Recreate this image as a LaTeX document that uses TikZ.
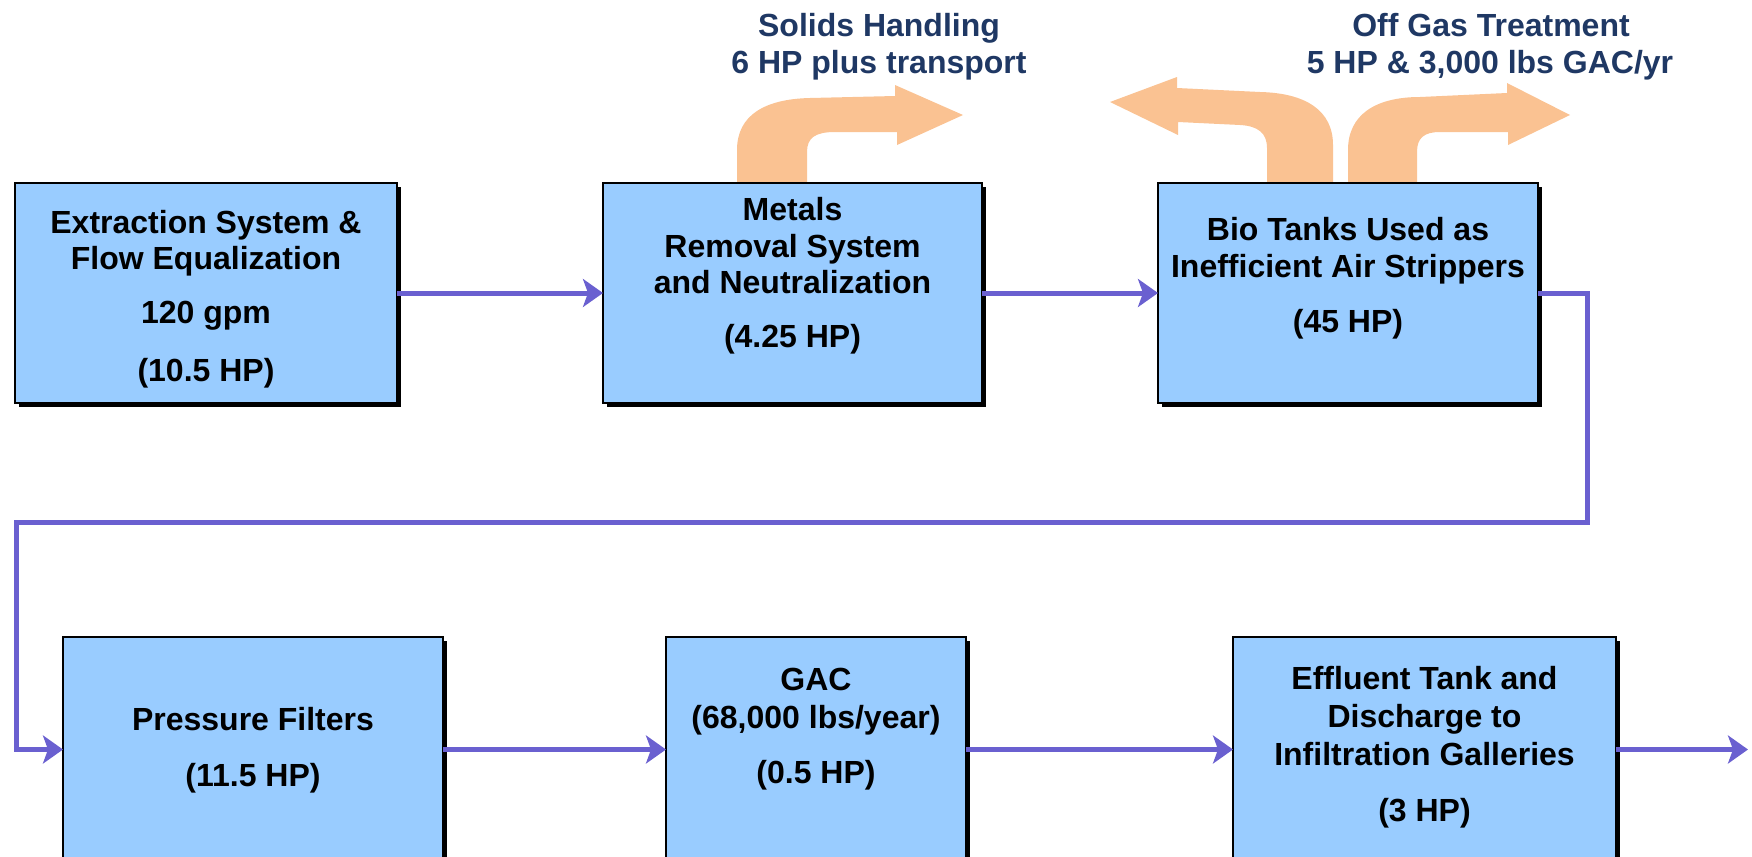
\documentclass[tikz,border=0pt]{standalone}
\usepackage{fontspec}
\setmainfont{Liberation Sans}
\usetikzlibrary{arrows.meta,shadows}
\definecolor{boxblue}{RGB}{153,204,255}
\definecolor{flowblue}{RGB}{106,96,208}
\definecolor{peach}{RGB}{250,194,146}
\definecolor{navy}{RGB}{31,56,100}
\begin{document}
\begin{tikzpicture}[x=0.5pt,y=-0.5pt,
  box/.style={draw=black, line width=0.8pt, fill=boxblue, outer sep=0pt, inner sep=0pt,
    drop shadow={shadow xshift=1.8pt,shadow yshift=-1.8pt,fill=black,opacity=1}},
  txt/.style={anchor=base, font=\fontsize{16}{19}\selectfont\bfseries, text=black, inner sep=0pt},
  ttl/.style={anchor=base, font=\fontsize{16}{19}\selectfont\bfseries, text=navy, inner sep=0pt},
  flow/.style={draw=flowblue, line width=2.5pt, -{Stealth[length=10pt,width=14pt,inset=2.5pt]}},
  bendarrow/.style={fill=peach, draw=none}]
\useasboundingbox (0,0) rectangle (1752,857);

% orange bent arrows (behind boxes)
\path[bendarrow] (737,190) -- (737,150) .. controls (737,115) and (765,99) .. (810,98)
  -- (895,96) -- (895,85) -- (963,115) -- (897,145) -- (897,132) -- (835,132)
  .. controls (815,132) and (807,138) .. (807,152) -- (807,190) -- cycle;
\path[bendarrow] (1333,190) -- (1333,145) .. controls (1333,110) and (1305,93) .. (1260,92)
  -- (1177,88) -- (1177,77) -- (1110,102) -- (1178,135) -- (1178,122) -- (1240,125)
  .. controls (1258,126) and (1267,133) .. (1267,148) -- (1267,190) -- cycle;
\path[bendarrow] (1348,190) -- (1348,150) .. controls (1348,115) and (1375,97) .. (1420,97)
  -- (1507,93) -- (1507,83) -- (1570,115) -- (1508,145) -- (1508,132) -- (1440,132)
  .. controls (1424,132) and (1417,138) .. (1417,152) -- (1417,190) -- cycle;

% titles
\node[ttl] (s1) at (879,36) {Solids Handling};
\node[ttl] (s2) at (879,73) {6 HP plus transport};
\node[ttl] (g1) at (1491,36) {Off Gas Treatment};
\node[ttl] (g2) at (1490,73) {5 HP \& 3,000 lbs GAC/yr};

% boxes
\node[box, minimum width=191pt, minimum height=110pt] (b1) at (206,293) {};
\node[box, minimum width=189.5pt, minimum height=110pt] (b2) at (792.5,293) {};
\node[box, minimum width=190pt, minimum height=110pt] (b3) at (1348,293) {};
\node[box, minimum width=190pt, minimum height=112.5pt] (b4) at (253,749.5) {};
\node[box, minimum width=150pt, minimum height=112.5pt] (b5) at (816,749.5) {};
\node[box, minimum width=191.5pt, minimum height=112.5pt] (b6) at (1424.5,749.5) {};

% box texts
\node[txt] (t1a) at (206,233) {Extraction System \&};
\node[txt] (t1b) at (206,269) {Flow Equalization};
\node[txt] (t1c) at (206,323) {120 gpm};
\node[txt] (t1d) at (206,381) {(10.5 HP)};

\node[txt] (t2a) at (792.5,220) {Metals};
\node[txt] (t2b) at (792.5,257) {Removal System};
\node[txt] (t2c) at (792.5,293) {and Neutralization};
\node[txt] (t2d) at (792.5,347) {(4.25 HP)};

\node[txt] (t3a) at (1348,240) {Bio Tanks Used as};
\node[txt] (t3b) at (1348,277) {Inefficient Air Strippers};
\node[txt] (t3c) at (1348,332) {(45 HP)};

\node[txt] (t4a) at (253,730) {Pressure Filters};
\node[txt] (t4b) at (253,786) {(11.5 HP)};

\node[txt] (t5a) at (816,690) {GAC};
\node[txt] (t5b) at (816,728) {(68,000 lbs/year)};
\node[txt] (t5c) at (816,783) {(0.5 HP)};

\node[txt] (t6a) at (1424.5,689) {Effluent Tank and};
\node[txt] (t6b) at (1424.5,727) {Discharge to};
\node[txt] (t6c) at (1424.5,765) {Infiltration Galleries};
\node[txt] (t6d) at (1424.5,821) {(3 HP)};

% connectors
\coordinate (r1) at (1587,522);
\coordinate (l1) at (16,522);
\coordinate (out) at (1748,749.5);
\draw[flow] (b1.east) -- (b2.west);
\draw[flow] (b2.east) -- (b3.west);
\draw[flow] (b3.east) -| (r1) -- (l1) |- (b4.west);
\draw[flow] (b4.east) -- (b5.west);
\draw[flow] (b5.east) -- (b6.west);
\draw[flow] (b6.east) -- (out);
\end{tikzpicture}
\end{document}
